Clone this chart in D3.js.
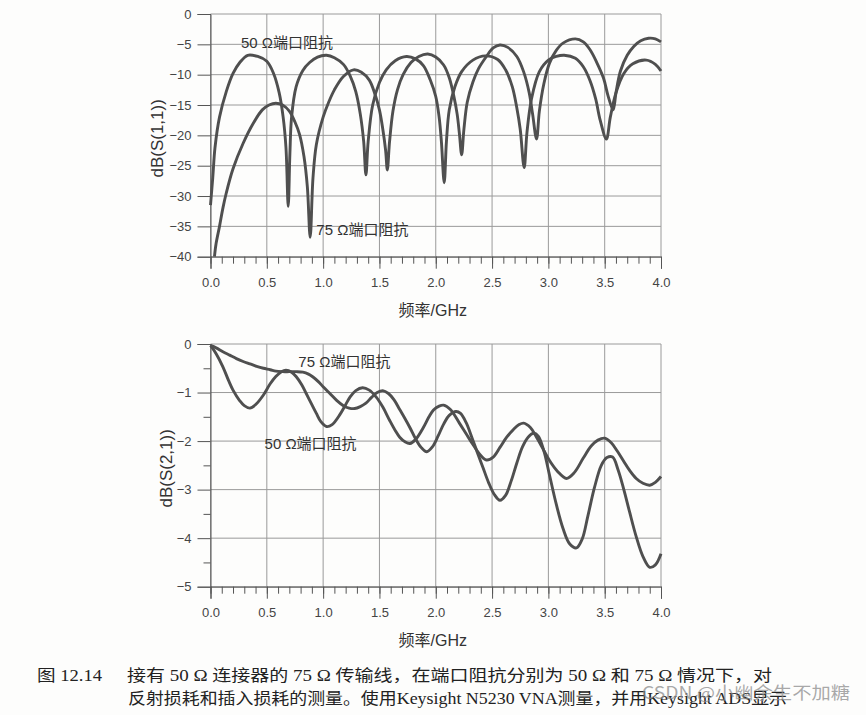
<!DOCTYPE html>
<html>
<head>
<meta charset="utf-8">
<script src="https://cdn.jsdelivr.net/npm/d3@7"></script>
<style>
  body { margin: 0; background: #fff; }
  svg { display: block; background: #fdfdfc; }
  .lbl { font-family: "Liberation Sans", Arial, "Noto Sans CJK SC", sans-serif; fill: #333; }
  .caption { font-family: "Liberation Serif", "Noto Sans CJK SC", serif; fill: #222; font-size: 16px; }
</style>
</head>
<body>
<svg id="chart" width="866" height="715"></svg>
<script>
// frequency axis (GHz), shared by both panels
const freqTicks = [0, 0.5, 1.0, 1.5, 2.0, 2.5, 3.0, 3.5, 4.0];
const s11Ticks = [0, -5, -10, -15, -20, -25, -30, -35, -40];
const s21Ticks = [0, -1, -2, -3, -4, -5];
const s21MinorTicks = [-0.5, -1.5, -2.5, -3.5, -4.5];

// reflection, 50 ohm port impedance  [GHz, dB]
const s11Port50 = [
  [0, -31.5], [0.02, -27], [0.04, -22], [0.08, -17], [0.14, -12.8], [0.2, -9.8], [0.26, -8.0],
  [0.33, -6.8], [0.42, -7.0], [0.5, -7.8], [0.56, -9.8], [0.61, -13], [0.645, -17], [0.67, -22],
  [0.69, -31.7], [0.705, -23], [0.72, -17], [0.76, -12], [0.82, -9.3], [0.88, -8.0], [0.95, -7.1],
  [1.03, -6.8], [1.1, -7.2], [1.18, -8.3], [1.24, -10.2], [1.29, -12.8], [1.33, -16.5], [1.36, -21],
  [1.38, -26.5], [1.40, -21], [1.44, -15], [1.5, -11.3], [1.56, -9.2], [1.64, -7.7], [1.74, -7.0],
  [1.82, -7.4], [1.89, -8.5], [1.95, -10.8], [2.0, -13.6], [2.03, -17], [2.05, -21], [2.075, -27.8],
  [2.095, -21], [2.12, -15.8], [2.17, -12], [2.23, -9.5], [2.33, -7.6], [2.44, -6.9], [2.55, -7.5],
  [2.62, -9.2], [2.68, -12], [2.72, -15.5], [2.75, -19], [2.785, -25.3], [2.81, -19.5], [2.85, -14],
  [2.92, -9.5], [3.0, -7.6], [3.07, -7.0], [3.14, -6.8], [3.24, -7.3], [3.31, -8.7], [3.37, -11],
  [3.42, -14], [3.46, -17.5], [3.515, -20.6], [3.55, -17], [3.6, -13], [3.67, -9.8], [3.75, -8.2],
  [3.87, -7.6], [3.95, -8.3], [4.0, -9.4]
];

// reflection, 75 ohm port impedance
const s11Port75 = [
  [0.035, -40], [0.05, -37.8], [0.08, -35], [0.11, -32], [0.14, -29.5], [0.2, -25.5], [0.29, -21.3],
  [0.38, -18], [0.46, -15.8], [0.52, -15.0], [0.58, -14.7], [0.64, -15.0], [0.7, -16], [0.75, -17.8],
  [0.79, -19.8], [0.83, -23.5], [0.86, -28.5], [0.885, -36.8], [0.91, -27], [0.94, -21.5], [1.0, -17],
  [1.05, -14.5], [1.1, -12.5], [1.18, -10.3], [1.27, -9.2], [1.34, -9.6], [1.41, -10.9], [1.46, -13.2],
  [1.5, -15.8], [1.53, -19], [1.555, -22.5], [1.57, -25.7], [1.59, -21], [1.62, -16], [1.66, -12.5],
  [1.71, -10.0], [1.78, -8.0], [1.85, -7.0], [1.93, -6.6], [2.0, -7.1], [2.07, -8.4], [2.12, -10.5],
  [2.16, -13.5], [2.19, -16.5], [2.21, -19.7], [2.23, -23.2], [2.25, -19], [2.28, -14.5], [2.33, -11.2],
  [2.38, -9.0], [2.45, -7.0], [2.51, -5.6], [2.57, -5.1], [2.64, -5.5], [2.72, -7.0], [2.78, -9.5],
  [2.83, -13], [2.86, -16.5], [2.895, -20.6], [2.92, -16], [2.96, -11.5], [3.01, -8.1], [3.07, -6.0],
  [3.13, -4.8], [3.24, -4.1], [3.31, -4.6], [3.37, -5.9], [3.43, -8.0], [3.49, -10.6], [3.53, -13.5],
  [3.575, -15.8], [3.60, -13], [3.64, -9.4], [3.7, -6.8], [3.76, -5.3], [3.82, -4.4], [3.89, -4.0],
  [3.95, -4.1], [4.0, -4.6]
];

// insertion, 50 ohm port impedance
const s21Port50 = [
  [0, -0.03], [0.05, -0.2], [0.11, -0.47], [0.16, -0.75], [0.2, -0.95], [0.26, -1.17], [0.3, -1.27],
  [0.35, -1.32], [0.4, -1.25], [0.47, -1.05], [0.53, -0.82], [0.58, -0.67], [0.63, -0.57], [0.67, -0.54],
  [0.72, -0.58], [0.76, -0.67], [0.81, -0.84], [0.85, -1.02], [0.9, -1.25], [0.94, -1.43], [0.98, -1.6],
  [1.03, -1.7], [1.08, -1.66], [1.15, -1.45], [1.2, -1.25], [1.24, -1.09], [1.29, -0.96], [1.35, -0.9],
  [1.41, -0.95], [1.47, -1.09], [1.53, -1.3], [1.59, -1.57], [1.64, -1.78], [1.68, -1.92], [1.73, -2.02],
  [1.77, -2.05], [1.82, -1.97], [1.89, -1.72], [1.94, -1.5], [1.98, -1.36], [2.03, -1.28], [2.07, -1.26],
  [2.13, -1.35], [2.21, -1.63], [2.27, -1.85], [2.33, -2.07], [2.39, -2.27], [2.45, -2.39], [2.51, -2.33],
  [2.57, -2.13], [2.63, -1.92], [2.69, -1.76], [2.74, -1.66], [2.78, -1.63], [2.84, -1.72], [2.89, -1.9],
  [2.95, -2.15], [3.01, -2.4], [3.08, -2.62], [3.16, -2.77], [3.23, -2.65], [3.31, -2.35], [3.38, -2.1],
  [3.44, -1.98], [3.5, -1.94], [3.56, -2.04], [3.61, -2.2], [3.67, -2.42], [3.72, -2.6], [3.78, -2.77],
  [3.84, -2.87], [3.9, -2.91], [3.95, -2.85], [4.0, -2.73]
];

// insertion, 75 ohm port impedance
const s21Port75 = [
  [0, -0.03], [0.05, -0.08], [0.11, -0.16], [0.17, -0.23], [0.23, -0.3], [0.29, -0.36], [0.35, -0.41],
  [0.41, -0.46], [0.47, -0.5], [0.53, -0.53], [0.58, -0.56], [0.64, -0.57], [0.7, -0.57], [0.76, -0.57],
  [0.82, -0.58], [0.87, -0.62], [0.91, -0.68], [0.96, -0.78], [1.0, -0.88], [1.06, -1.02], [1.12, -1.16],
  [1.18, -1.27], [1.23, -1.32], [1.28, -1.33], [1.33, -1.29], [1.38, -1.22], [1.43, -1.1], [1.48, -1.0],
  [1.53, -0.96], [1.58, -1.02], [1.63, -1.15], [1.68, -1.35], [1.73, -1.55], [1.77, -1.72], [1.82, -1.95],
  [1.87, -2.13], [1.92, -2.22], [1.97, -2.12], [2.02, -1.9], [2.07, -1.65], [2.12, -1.47], [2.18, -1.39],
  [2.22, -1.43], [2.27, -1.62], [2.32, -1.92], [2.37, -2.24], [2.42, -2.55], [2.47, -2.86], [2.52, -3.1],
  [2.57, -3.22], [2.62, -3.12], [2.67, -2.82], [2.72, -2.45], [2.77, -2.12], [2.82, -1.92], [2.87, -1.84],
  [2.91, -1.9], [2.96, -2.2], [3.01, -2.7], [3.07, -3.3], [3.13, -3.8], [3.19, -4.12], [3.25, -4.2],
  [3.3, -4.02], [3.35, -3.55], [3.41, -2.95], [3.47, -2.5], [3.52, -2.34], [3.57, -2.33], [3.62, -2.6],
  [3.67, -3.0], [3.72, -3.45], [3.78, -3.97], [3.84, -4.38], [3.9, -4.6], [3.95, -4.55], [4.0, -4.32]
];

const label50 = '50 \u03A9端口阻抗';
const label75 = '75 \u03A9端口阻抗';

const svg = d3.select('#chart');
const plotLeft = 210.5, plotRight = 661;
const minorFreq = d3.range(0, 40.5, 1).map(i => i / 10);

function drawPanel(cfg) {
  const x = d3.scaleLinear().domain([0, 4]).range([plotLeft, plotRight]);
  const y = d3.scaleLinear().domain(cfg.yDomain).range([cfg.bottom, cfg.top]);
  const g = svg.append('g');

  // grid
  g.append('g').selectAll('line').data(cfg.yTicks).join('line')
    .attr('x1', x(0)).attr('x2', x(4))
    .attr('y1', d => y(d)).attr('y2', d => y(d))
    .attr('stroke', '#9a9a9a').attr('stroke-width', 1);
  g.append('g').selectAll('line').data(freqTicks).join('line')
    .attr('x1', d => x(d)).attr('x2', d => x(d))
    .attr('y1', y.range()[1]).attr('y2', y.range()[0])
    .attr('stroke', '#9a9a9a').attr('stroke-width', 1);

  // minor ticks on the frequency axis
  g.append('g')
    .attr('transform', `translate(0,${cfg.bottom})`)
    .call(d3.axisBottom(x).tickValues(minorFreq).tickSize(7).tickFormat(''))
    .call(a => a.select('.domain').remove())
    .attr('color', '#555');

  // main axes
  g.append('g')
    .attr('transform', `translate(0,${cfg.bottom})`)
    .call(d3.axisBottom(x).tickValues(freqTicks).tickSize(12).tickPadding(9).tickFormat(d3.format('.1f')))
    .attr('color', '#555')
    .attr('font-size', 13)
    .attr('font-family', '"Liberation Sans", Arial, sans-serif')
    .call(a => a.selectAll('text').attr('fill', '#444'));

  if (cfg.yMinor) {
    g.append('g')
      .attr('transform', `translate(${plotLeft},0)`)
      .call(d3.axisLeft(y).tickValues(cfg.yMinor).tickSize(7).tickFormat(''))
      .call(a => a.select('.domain').remove())
      .attr('color', '#555');
  }
  g.append('g')
    .attr('transform', `translate(${plotLeft},0)`)
    .call(d3.axisLeft(y).tickValues(cfg.yTicks).tickSize(13).tickPadding(6).tickFormat(d3.format('d')))
    .attr('color', '#555')
    .attr('font-size', 13)
    .attr('font-family', '"Liberation Sans", Arial, sans-serif')
    .call(a => a.selectAll('text').attr('fill', '#444'));

  // curves (centripetal catmull-rom keeps the lobes round and the nulls sharp)
  const line = d3.line()
    .x(d => x(d[0]))
    .y(d => y(d[1]))
    .curve(d3.curveCatmullRom.alpha(0.5));
  cfg.series.forEach(s => {
    g.append('path').datum(s)
      .attr('d', line)
      .attr('fill', 'none')
      .attr('stroke', '#4f4f4f')
      .attr('stroke-width', 2.9)
      .attr('stroke-linejoin', 'round');
  });

  // curve annotations
  cfg.notes.forEach(n => {
    g.append('text').attr('class', 'lbl')
      .attr('x', x(n.f)).attr('y', y(n.db))
      .attr('font-size', 15)
      .text(n.text);
  });

  // axis titles
  g.append('text').attr('class', 'lbl')
    .attr('transform', `translate(${cfg.yTitleX},${(cfg.top + cfg.bottom) / 2 + 3}) rotate(-90)`)
    .attr('text-anchor', 'middle')
    .attr('dy', '0.35em')
    .attr('font-size', 17)
    .text(cfg.yTitle);
  g.append('text').attr('class', 'lbl')
    .attr('x', (plotLeft + plotRight) / 2 - 3).attr('y', cfg.bottom + 59)
    .attr('text-anchor', 'middle')
    .attr('font-size', 16)
    .text('频率/GHz');
}

drawPanel({
  top: 14, bottom: 256.7, yDomain: [-40, 0], yTicks: s11Ticks,
  yTitle: 'dB(S(1,1))', yTitleX: 157,
  series: [s11Port50, s11Port75],
  notes: [{ f: 0.27, db: -5.6, text: label50 }, { f: 0.94, db: -36.4, text: label75 }]
});

drawPanel({
  top: 344, bottom: 586.7, yDomain: [-5, 0], yTicks: s21Ticks, yMinor: s21MinorTicks,
  yTitle: 'dB(S(2,1))', yTitleX: 166,
  series: [s21Port50, s21Port75],
  notes: [{ f: 0.78, db: -0.47, text: label75 }, { f: 0.48, db: -2.16, text: label50 }]
});

// figure caption
svg.append('text').attr('class', 'caption').attr('x', 37).attr('y', 681)
  .attr('textLength', 65).attr('lengthAdjust', 'spacingAndGlyphs')
  .text('图 12.14');
svg.append('text').attr('class', 'caption').attr('x', 127).attr('y', 681)
  .attr('textLength', 645).attr('lengthAdjust', 'spacingAndGlyphs')
  .text('接有 50 \u03A9 连接器的 75 \u03A9 传输线，在端口阻抗分别为 50 \u03A9 和 75 \u03A9 情况下，对');
svg.append('text').attr('class', 'caption').attr('x', 128).attr('y', 704)
  .attr('textLength', 659).attr('lengthAdjust', 'spacingAndGlyphs')
  .text('反射损耗和插入损耗的测量。使用Keysight N5230 VNA测量，并用Keysight ADS显示');

// watermark
svg.append('text')
  .attr('x', 642).attr('y', 699)
  .attr('font-family', '"Noto Sans CJK SC", sans-serif')
  .attr('font-size', 17)
  .attr('fill', '#8c8c8c').attr('fill-opacity', 0.75)
  .attr('textLength', 208).attr('lengthAdjust', 'spacingAndGlyphs')
  .text('CSDN @小幽余生不加糖');
</script>
</body>
</html>
